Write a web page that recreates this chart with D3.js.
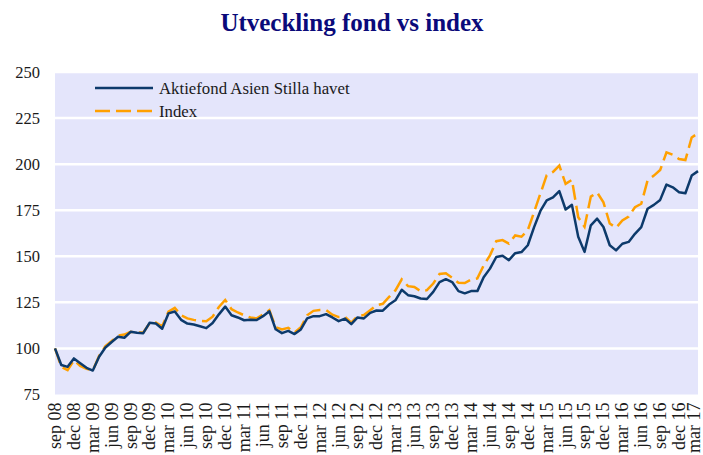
<!DOCTYPE html>
<html><head><meta charset="utf-8">
<script src="https://cdn.jsdelivr.net/npm/d3@7"></script>
<style>body{margin:0;background:#fff}svg{display:block}</style>
</head><body>
<svg id="c" width="703" height="455"></svg>
<script>
const title = "Utveckling fond vs index";
const seriesNames = ["Aktiefond Asien Stilla havet", "Index"];
const categories = (
 "sep 08,okt 08,nov 08,dec 08," +
 "jan 09,feb 09,mar 09,apr 09,maj 09,jun 09,jul 09,aug 09,sep 09,okt 09,nov 09,dec 09," +
 "jan 10,feb 10,mar 10,apr 10,maj 10,jun 10,jul 10,aug 10,sep 10,okt 10,nov 10,dec 10," +
 "jan 11,feb 11,mar 11,apr 11,maj 11,jun 11,jul 11,aug 11,sep 11,okt 11,nov 11,dec 11," +
 "jan 12,feb 12,mar 12,apr 12,maj 12,jun 12,jul 12,aug 12,sep 12,okt 12,nov 12,dec 12," +
 "jan 13,feb 13,mar 13,apr 13,maj 13,jun 13,jul 13,aug 13,sep 13,okt 13,nov 13,dec 13," +
 "jan 14,feb 14,mar 14,apr 14,maj 14,jun 14,jul 14,aug 14,sep 14,okt 14,nov 14,dec 14," +
 "jan 15,feb 15,mar 15,apr 15,maj 15,jun 15,jul 15,aug 15,sep 15,okt 15,nov 15,dec 15," +
 "jan 16,feb 16,mar 16,apr 16,maj 16,jun 16,jul 16,aug 16,sep 16,okt 16,nov 16,dec 16," +
 "jan 17,feb 17,mar 17").split(",");
const tickLabels = ["sep 08","dec 08","mar 09","jun 09","sep 09","dec 09","mar 10","jun 10","sep 10","dec 10",
 "mar 11","jun 11","sep 11","dec 11","mar 12","jun 12","sep 12","dec 12","mar 13","jun 13","sep 13","dec 13",
 "mar 14","jun 14","sep 14","dec 14","mar 15","jun 15","sep 15","dec 15","mar 16","jun 16","sep 16","dec 16","mar 17"];
const yTicks = [75,100,125,150,175,200,225,250];
const fund = [100,91,90,94.6,92,89.5,88,95.5,100.5,103.5,106.3,105.8,109,108.5,108.3,113.9,113.5,110.7,119,120,
 115.5,113.5,113,112,111,113.8,118.5,122.7,118,116.8,115.3,115.6,115.4,117.5,120.2,110.4,108.3,109.5,107.8,110.3,
 116.3,117.5,117.5,118.6,116.8,114.8,116.2,113.2,116.8,116.3,119.3,120.6,120.5,123.8,126.1,131.8,128.9,128.3,127.1,126.8,
 130.7,136,137.6,136,131.1,129.9,131.1,131.1,138.6,143.3,149.6,150.3,147.9,151.7,152.3,156,165.8,174.6,180.4,182,
 185.4,175.4,177.9,160.6,152.4,166.8,170.4,165.9,156,153.2,156.8,157.8,162.2,165.8,175.8,177.9,180.6,188.9,187.4,184.8,
 184.2,193.8,196.2];
const index = [100,90,88.2,93.6,90.5,89,88,96,101.2,104,107,107.5,109,108.6,108.6,113.6,114,112,120,122,
 118,116.3,115.5,115,114.8,117.2,122.5,126.3,121.3,119.5,118,116.8,116.3,118.4,120.7,111.5,110.3,111.2,108.6,111.5,
 118,120.4,120.8,120.8,118.3,117,117.2,114,117.6,118.1,120.7,123.4,124.2,128,131.5,137.5,133.8,133.3,131.1,131.6,
 135.2,140.4,140.8,138.4,135.6,135.5,137.4,138,145,150.5,158.2,158.8,156.9,161.3,160.6,164.2,174,184,194,195.8,
 199.2,189.3,191.5,171.2,166,182.4,184.6,179.3,167.8,165.5,169.4,171.6,176.6,178.5,191.2,193.8,196.8,206.4,205.1,202.8,
 202.2,214.5,216.8];

const svg = d3.select("#c");
const L = 55, R = 698, T = 72, B = 394.5;
const font = "'Liberation Serif', 'DejaVu Serif', serif";
const x = d3.scalePoint().domain(categories).range([L, R]);
const y = d3.scaleLinear().domain([75, 250]).range([B, T]);

svg.append("rect").attr("x", L).attr("y", T).attr("width", R - L).attr("height", B - T).attr("fill", "#e4e5fb");

svg.append("g").selectAll("line").data(yTicks.filter(d => d > 75)).join("line")
  .attr("x1", L).attr("x2", R).attr("y1", d => y(d)).attr("y2", d => y(d))
  .attr("stroke", "#fff").attr("stroke-width", 2.5);

const yAxis = svg.append("g").attr("transform", `translate(${L},0)`)
  .call(d3.axisLeft(y).tickValues(yTicks).tickSize(0).tickPadding(15));
yAxis.select(".domain").remove();
yAxis.selectAll("text").attr("font-family", font).attr("font-size", 16.5).attr("fill", "#1a1a1a");

const xAxis = svg.append("g").attr("transform", `translate(0,${B})`)
  .call(d3.axisBottom(x).tickValues(tickLabels).tickSize(0));
xAxis.select(".domain").remove();
xAxis.selectAll("text").attr("font-family", font).attr("font-size", 18).attr("fill", "#1a1a1a")
  .attr("transform", "rotate(-90)").attr("text-anchor", "end").attr("x", -8).attr("y", 0)
  .attr("dy", (d, i, n) => i === n.length - 1 ? "0.07em" : "0.3em");

const line = d3.line().x((d, i) => x(categories[i])).y(d => y(d));
svg.append("path").datum(index).attr("d", line).attr("fill", "none")
  .attr("stroke", "#ffa000").attr("stroke-width", 2.5).attr("stroke-dasharray", "15,6");
svg.append("path").datum(fund).attr("d", line).attr("fill", "none")
  .attr("stroke", "#0d3a6b").attr("stroke-width", 2.5).attr("stroke-linejoin", "round");

const leg = [{n: seriesNames[0], c: "#0d3a6b", d: null, y: 88}, {n: seriesNames[1], c: "#ffa000", d: "15,6", y: 111}];
leg.forEach(l => {
  svg.append("line").attr("x1", 95).attr("x2", 153).attr("y1", l.y).attr("y2", l.y)
    .attr("stroke", l.c).attr("stroke-width", 2.5).attr("stroke-dasharray", l.d);
  svg.append("text").attr("x", 159).attr("y", l.y).attr("dy", "0.35em").attr("font-family", font)
    .attr("font-size", 16.8).attr("fill", "#1a1a1a").text(l.n);
});

svg.append("text").attr("x", 352).attr("y", 31).attr("text-anchor", "middle").attr("font-family", font)
  .attr("font-size", 25).attr("font-weight", "bold").attr("fill", "#0a0a7a").text(title);
</script>
</body></html>
